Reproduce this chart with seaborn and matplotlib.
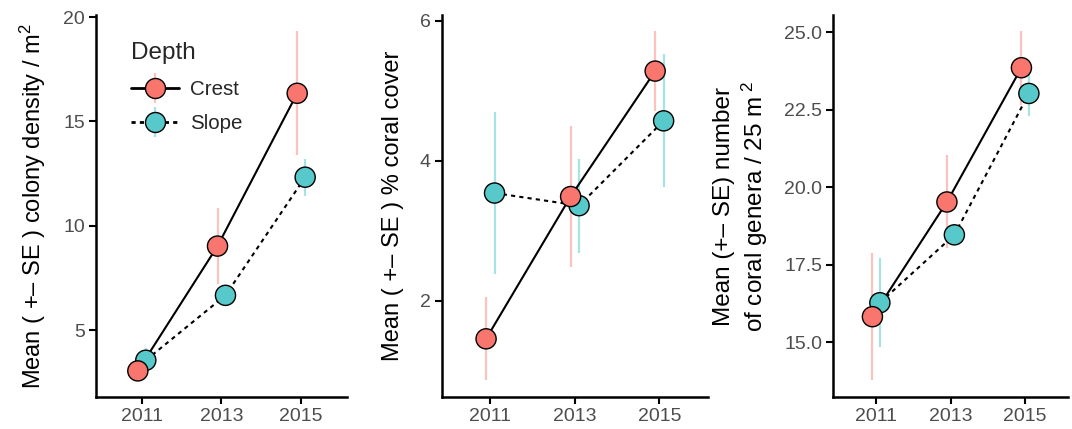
import numpy as np
import pandas as pd
import matplotlib
matplotlib.use("Agg")
import matplotlib.pyplot as plt
import seaborn as sns
from matplotlib.lines import Line2D
from matplotlib.legend_handler import HandlerTuple

# Survey years and reef zones
years = [2011, 2013, 2015]
depths = ["Crest", "Slope"]

# Colony density (colonies / m^2): mean and standard error
density_crest = [3.05, 9.03, 16.35]
density_crest_se = [0.35, 1.83, 2.97]
density_slope = [3.56, 6.67, 12.33]
density_slope_se = [0.59, 0.35, 0.88]

# Percent coral cover: mean and standard error
cover_crest = [1.46, 3.49, 5.28]
cover_crest_se = [0.59, 1.01, 0.57]
cover_slope = [3.54, 3.36, 4.57]
cover_slope_se = [1.15, 0.67, 0.95]

# Number of coral genera per 25 m^2: mean and standard error
genera_crest = [15.83, 19.53, 23.86]
genera_crest_se = [2.04, 1.50, 1.19]
genera_slope = [16.28, 18.47, 23.03]
genera_slope_se = [1.43, 0.28, 0.73]

sns.set_theme(style="white")
plt.rcParams["font.family"] = ["Liberation Sans", "DejaVu Sans"]
plt.rcParams["mathtext.fontset"] = "custom"
plt.rcParams["mathtext.rm"] = "Liberation Sans"
plt.rcParams["mathtext.it"] = "Liberation Sans:italic"
plt.rcParams["mathtext.bf"] = "Liberation Sans:bold"

fill = {"Crest": "#F8766D", "Slope": "#57C9CA"}
bar_col = {"Crest": "#FBC3BF", "Slope": "#A6E3E5"}
dodge = {"Crest": -0.1, "Slope": 0.1}
tick_grey = "#4D4D4D"


def make_frame(crest, crest_se, slope, slope_se):
    rows = []
    for depth, means, ses in (("Slope", slope, slope_se), ("Crest", crest, crest_se)):
        for yr, m, s in zip(years, means, ses):
            rows.append({"Year": yr, "Depth": depth, "mean": m, "se": s})
    df = pd.DataFrame(rows)
    df["xpos"] = df["Year"] + df["Depth"].map(dodge)
    return df


panels = [
    dict(df=make_frame(density_crest, density_crest_se, density_slope, density_slope_se),
         ylim=(1.8, 20.1), yticks=[5, 10, 15, 20], fmt="{:.0f}",
         ylabel="Mean ( +– SE ) colony density / m$^{2}$", lsize=17, pad=11,
         rect=[96 / 1072, 0.0746, 251 / 1072, 0.8904]),
    dict(df=make_frame(cover_crest, cover_crest_se, cover_slope, cover_slope_se),
         ylim=(0.63, 6.08), yticks=[2, 4, 6], fmt="{:.0f}",
         ylabel="Mean ( +– SE ) % coral cover", lsize=17, pad=11,
         rect=[441.7 / 1072, 0.0746, 266.3 / 1072, 0.8904]),
    dict(df=make_frame(genera_crest, genera_crest_se, genera_slope, genera_slope_se),
         ylim=(13.24, 25.56), yticks=[15.0, 17.5, 20.0, 22.5, 25.0], fmt="{:.1f}",
         ylabel="Mean (+– SE) number\nof coral genera / 25 m$^{\\ 2}$", lsize=17.5, pad=10,
         rect=[833.3 / 1072, 0.0746, 234.7 / 1072, 0.8904]),
]

fig = plt.figure(figsize=(10.72, 4.29), dpi=100)

axes = []
for p in panels:
    ax = fig.add_axes(p["rect"])
    axes.append(ax)
    df = p["df"]

    # standard-error bars behind everything
    for depth, g in df.groupby("Depth"):
        ax.vlines(g["xpos"], g["mean"] - g["se"], g["mean"] + g["se"],
                  color=bar_col[depth], lw=1.6, zorder=1)

    # black connecting lines: solid for crest, dashed for slope
    sns.lineplot(data=df, x="xpos", y="mean", style="Depth",
                 style_order=depths, dashes={"Crest": "", "Slope": (2, 2)},
                 color="black", lw=1.5, ax=ax, legend=False, zorder=2,
                 sort=True, estimator=None)

    # filled points
    sns.scatterplot(data=df, x="xpos", y="mean", hue="Depth", palette=fill,
                    s=210, edgecolor="black", linewidth=1.0, ax=ax,
                    legend=False, zorder=3)

    ax.set_xlim(2009.85, 2016.15)
    ax.set_ylim(*p["ylim"])
    ax.set_xticks(years)
    ax.set_xticklabels([str(y) for y in years])
    ax.set_yticks(p["yticks"])
    ax.set_yticklabels([p["fmt"].format(v) for v in p["yticks"]])
    ax.set_xlabel("")
    ax.set_ylabel(p["ylabel"], fontsize=p["lsize"], color="black", labelpad=p["pad"])
    sns.despine(ax=ax)
    for side in ("left", "bottom"):
        ax.spines[side].set_linewidth(1.8)
        ax.spines[side].set_color("black")
    ax.tick_params(axis="both", which="major", length=5, width=1.5,
                   direction="out", color="black", labelcolor=tick_grey,
                   labelsize=14, bottom=True, left=True, pad=3)

# legend for the reef zones in the first panel
handles = []
for depth in depths:
    vbar = Line2D([], [], marker="|", markersize=22, markeredgewidth=1.6,
                  color=bar_col[depth], linestyle="none")
    pt = Line2D([], [], color="black", lw=2.0,
                linestyle="-" if depth == "Crest" else (0, (1.5, 1.5)),
                marker="o", markersize=14.4, markerfacecolor=fill[depth],
                markeredgecolor="black", markeredgewidth=1.0)
    handles.append((vbar, pt))

leg = axes[0].legend(handles, depths, title="Depth", loc="upper left",
                     bbox_to_anchor=(0.097, 0.955), frameon=False,
                     handler_map={tuple: HandlerTuple(ndivide=1, pad=0)},
                     handlelength=2.35, handletextpad=0.55, labelspacing=0.75,
                     fontsize=14.8, title_fontsize=17.5, alignment="left",
                     borderpad=0)

fig.savefig("out.png", dpi=100)
